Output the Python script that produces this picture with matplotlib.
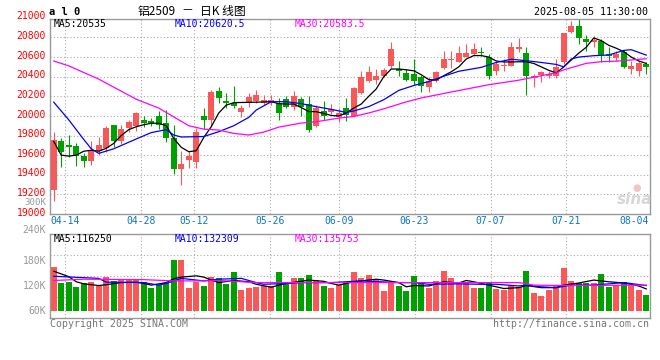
# Sina-style daily K line chart for al0 (aluminium 2509)
import numpy as np
import matplotlib
matplotlib.use("Agg")
import matplotlib.pyplot as plt

# ---- data ----
dates = ("04-10 04-11 04-14 04-15 04-16 04-17 04-18 04-21 04-22 04-23 04-24 04-25 "
         "04-28 04-29 04-30 05-06 05-07 05-08 05-09 05-12 05-13 05-14 05-15 05-16 "
         "05-19 05-20 05-21 05-22 05-23 05-26 05-27 05-28 05-29 05-30 06-03 06-04 "
         "06-05 06-06 06-09 06-10 06-11 06-12 06-13 06-16 06-17 06-18 06-19 06-20 "
         "06-23 06-24 06-25 06-26 06-27 06-30 07-01 07-02 07-03 07-04 07-07 07-08 "
         "07-09 07-10 07-11 07-14 07-15 07-16 07-17 07-18 07-21 07-22 07-23 07-24 "
         "07-25 07-28 07-29 07-30 07-31 08-01 08-04 08-05").split()
tick_dates = ["04-14", "04-28", "05-12", "05-26", "06-09", "06-23", "07-07", "07-21", "08-04"]

opens = [19244, 19744, 19703, 19693, 19591, 19543, 19645, 19670, 19907, 19747,
         19873, 19900, 19958, 19948, 19999, 19931, 19778, 19458, 19550, 19533,
         19999, 19958, 20254, 20152, 20135, 20043, 20129, 20152, 20135, 20129,
         20135, 20169, 20094, 20169, 20121, 19897, 20050, 20043, 19986, 20078,
         19996, 20234, 20353, 20369, 20410, 20512, 20478, 20438, 20427, 20394,
         20298, 20359, 20486, 20575, 20553, 20604, 20631, 20645, 20598, 20461,
         20506, 20512, 20682, 20642, 20387, 20417, 20404, 20404, 20547, 20853,
         20920, 20784, 20757, 20767, 20631, 20588, 20649, 20478, 20461, 20529]
highs = [19839, 19772, 19805, 19721, 19625, 19744, 19782, 19900, 19907, 19907,
         19958, 20043, 19999, 19975, 20053, 20060, 19907, 19645, 19645, 19873,
         20078, 20264, 20292, 20237, 20305, 20111, 20230, 20264, 20213, 20213,
         20179, 20203, 20254, 20190, 20203, 20111, 20152, 20121, 20078, 20186,
         20292, 20461, 20512, 20478, 20486, 20757, 20563, 20478, 20580, 20417,
         20394, 20461, 20665, 20659, 20716, 20733, 20744, 20700, 20631, 20563,
         20580, 20757, 20792, 20700, 20427, 20461, 20461, 20580, 20846, 20971,
         20988, 20825, 20815, 20784, 20700, 20665, 20675, 20563, 20563, 20547]
lows = [19132, 19482, 19584, 19489, 19482, 19499, 19601, 19635, 19680, 19713,
        19839, 19849, 19890, 19900, 19863, 19737, 19404, 19295, 19466, 19466,
        19863, 19897, 20129, 20078, 20078, 19992, 20094, 20129, 20111, 20111,
        19958, 20078, 20060, 19999, 19839, 19884, 19958, 20019, 19941, 19950,
        19986, 20223, 20343, 20325, 20394, 20486, 20410, 20359, 20315, 20247,
        20241, 20343, 20478, 20486, 20547, 20598, 20621, 20614, 20376, 20417,
        20461, 20512, 20655, 20213, 20292, 20349, 20384, 20384, 20529, 20846,
        20733, 20665, 20706, 20547, 20553, 20563, 20486, 20427, 20404, 20427]
closes = [19754, 19635, 19686, 19591, 19543, 19652, 19703, 19873, 19747, 19866,
          19941, 20033, 19931, 19925, 19904, 19778, 19458, 19509, 19594, 19839,
          19958, 20247, 20186, 20129, 20101, 20078, 20196, 20213, 20162, 20162,
          20033, 20094, 20203, 20094, 19856, 20078, 19999, 20070, 20033, 20010,
          20282, 20400, 20451, 20404, 20471, 20682, 20461, 20369, 20359, 20308,
          20359, 20451, 20580, 20585, 20642, 20642, 20682, 20638, 20410, 20529,
          20522, 20700, 20700, 20410, 20404, 20445, 20427, 20502, 20846, 20914,
          20792, 20757, 20774, 20621, 20608, 20631, 20502, 20506, 20537, 20496]

ma5 = [19740, 19600, 19590, 19600, 19640, 19650, 19640, 19670, 19720, 19800,
       19860, 19890, 19910, 19925, 19925, 19900, 19770, 19680, 19635, 19645,
       19780, 19890, 20030, 20110, 20135, 20137, 20138, 20140, 20142, 20145,
       20125, 20121, 20121, 20085, 20045, 20043, 20025, 20005, 19999, 20030,
       20080, 20121, 20200, 20275, 20400, 20478, 20478, 20470, 20460, 20420,
       20370, 20366, 20410, 20450, 20500, 20580, 20615, 20615, 20600, 20560,
       20550, 20550, 20552, 20552, 20535, 20500, 20465, 20438, 20500, 20570,
       20640, 20700, 20795, 20767, 20720, 20690, 20655, 20600, 20560, 20535]
ma10_idx = [0, 2, 4, 5, 6, 8, 11, 13, 15, 16, 17, 20, 22, 24, 26, 27, 29, 31, 33, 35,
            37, 39, 40, 42, 44, 46, 48, 50, 52, 54, 57, 59, 61, 63, 65, 67, 68, 69, 70, 72,
            74, 76, 77, 79]
ma10_val = [20140, 19960, 19760, 19665, 19618, 19665, 19765, 19830, 19860, 19805,
            19785, 19790, 19839, 19900, 19985, 20060, 20145, 20145, 20125, 20094,
            20067, 20035, 20050, 20095, 20165, 20260, 20310, 20350, 20405, 20455,
            20495, 20545, 20578, 20563, 20545, 20525, 20500, 20580, 20600, 20614,
            20621, 20668, 20675, 20620]
ma30_idx = [0, 2, 6, 11, 14, 16, 18, 20, 22, 24, 26, 28, 30, 33, 35, 38, 40, 42, 44, 47,
            49, 53, 58, 62, 67, 68, 71, 73, 75, 79]
ma30_val = [20560, 20510, 20375, 20170, 20080, 19990, 19900, 19865, 19856, 19822,
            19805, 19835, 19886, 19927, 19941, 19977, 19995, 20030, 20072, 20143,
            20183, 20244, 20318, 20364, 20440, 20470, 20536, 20553, 20558, 20583]

# volume in thousands
volumes = [164, 127, 130, 118, 128, 130, 121, 142, 132, 137,
           137, 134, 130, 114, 122, 128, 182, 182, 116, 130,
           120, 142, 140, 125, 153, 111, 116, 118, 120, 120,
           153, 124, 140, 140, 146, 133, 121, 116, 122, 128,
           153, 139, 146, 136, 108, 126, 120, 108, 144, 126,
           115, 132, 156, 139, 128, 130, 115, 115, 130, 113,
           111, 122, 118, 156, 103, 96, 111, 120, 163, 132,
           126, 128, 126, 148, 118, 122, 130, 120, 111, 99]
vma5_idx = [0, 2, 3, 4, 6, 7, 9, 11, 12, 13, 15, 16, 17, 19, 20, 21, 22, 24, 26, 27,
            29, 30, 31, 33, 34, 36, 37, 38, 40, 43, 44, 46, 47, 48, 50, 52, 54, 55, 56, 58,
            60, 62, 63, 65, 67, 68, 70, 72, 74, 76, 78, 79]
vma5_val = [155, 142, 130, 125, 121, 123, 128, 129, 126, 122, 128, 137, 141, 144, 141,
            134, 128, 133, 130, 124, 117, 122, 126, 131, 134, 131, 126, 122, 130, 136,
            134, 128, 118, 121, 120, 130, 127, 133, 130, 122, 114, 116, 121, 116, 116,
            122, 127, 134, 130, 127, 120, 113]
vma10_idx = [0, 6, 7, 12, 14, 15, 17, 20, 22, 25, 27, 28, 31, 33, 37, 41, 46, 48, 50, 54,
             57, 59, 62, 63, 65, 67, 69, 72, 74, 76, 79]
vma10_val = [143, 138, 129, 128, 122, 126, 138, 132, 136, 138, 128, 124, 126, 128, 128,
             132, 128, 128, 124, 125, 124, 124, 120, 122, 118, 116, 122, 122, 125, 128, 121]
vma30_idx = [0, 4, 12, 16, 20, 22, 27, 62, 64, 68, 79]
vma30_val = [133, 136, 135, 132, 132, 133, 128, 128, 122, 121, 122]

price_ticks = [19000, 19200, 19400, 19600, 19800, 20000, 20200, 20400, 20600, 20800, 21000]
vol_ticks = [60000, 120000, 180000, 240000, 300000]
vol_tick_labels = ["60K", "120K", "180K", "240K", "300K"]

# ---- styles ----
RED = "#fa5858"
GREEN = "#00a000"
GRID = "#aaaaaa"
FRAME = "#999999"
MONO = "DejaVu Sans Mono"
W, H = 660, 360


def fx(px):
    return px / W


def fy(py):
    return 1 - py / H


opens = np.array(opens)
closes = np.array(closes)
highs = np.array(highs)
lows = np.array(lows)
vols = np.array(volumes) * 1000
n = len(dates)
x = np.arange(n)
colors = np.where(closes >= opens, RED, GREEN)

fig = plt.figure(figsize=(6.6, 3.6), dpi=100)
ax = fig.add_axes([fx(50), fy(214), 600 / W, 195 / H])
axv = fig.add_axes([fx(50), fy(318.3), 600 / W, 84 / H])

# date grid positions (Sina spreads them over the full width)
grid_x = [-0.5 + dates.index(d) / (n - 1) * n for d in tick_dates]

# price panel
for v in price_ticks[1:-1]:
    ax.axhline(v, color=GRID, lw=0.8, ls=(0, (1, 2)), zorder=0)
for gx in grid_x[:-1]:
    ax.axvline(gx, color=GRID, lw=0.8, ls=(0, (1, 2)), zorder=0)

ax.vlines(x, lows, highs, colors=colors, lw=0.8, zorder=2)
ax.bar(x, np.maximum(np.abs(closes - opens), 10), bottom=np.minimum(opens, closes),
       width=0.8, color=colors, linewidth=0, zorder=3)
ax.plot(x, ma5, color="black", lw=0.9, zorder=4)
ax.plot(ma10_idx, ma10_val, color="#0000ff", lw=0.9, zorder=4)
ax.plot(ma30_idx, ma30_val, color="#ff00ff", lw=0.9, zorder=4)
ax.set_xlim(-0.5, n - 0.5)
ax.set_ylim(19000, 20988)
ax.set_xticks([])
ax.set_yticks([])

for v in price_ticks:
    ax.annotate(str(v), xy=(0, v), xycoords=("axes fraction", "data"),
                xytext=(-2.9, 1), textcoords="offset points", ha="right", va="center",
                color="red", fontsize=7, family=MONO, annotation_clip=False)

# volume panel
for f in [0.25, 0.5, 0.75]:
    axv.axhline(43400 + f * 199000, color=GRID, lw=0.8, ls=(0, (1, 2)), zorder=0)
for gx in grid_x[:-1]:
    axv.axvline(gx, color=GRID, lw=0.8, ls=(0, (1, 2)), zorder=0)

VOL_BASE = 60000
axv.bar(x, vols - VOL_BASE, bottom=VOL_BASE, width=0.8, color=colors, linewidth=0, zorder=2)
axv.plot(vma5_idx, np.array(vma5_val) * 1000, color="black", lw=0.9, zorder=4)
axv.plot(vma10_idx, np.array(vma10_val) * 1000, color="#0000ff", lw=0.9, zorder=4)
axv.plot(vma30_idx, np.array(vma30_val) * 1000, color="#ff00ff", lw=0.9, zorder=4)
axv.set_xlim(-0.5, n - 0.5)
axv.set_ylim(43400, 242400)
axv.set_xticks([])
axv.set_yticks([])

extra = {240000: 3.8, 300000: 5.6}
for v, lab in zip(vol_ticks, vol_tick_labels):
    axv.annotate(lab, xy=(0, v), xycoords=("axes fraction", "data"),
                 xytext=(-2.9, extra.get(v, 0)), textcoords="offset points",
                 ha="right", va="center", color="#999999",
                 fontsize=6.6 if v == 300000 else 7, family=MONO,
                 annotation_clip=False)

for a in (ax, axv):
    for s in a.spines.values():
        s.set_color(FRAME)
        s.set_linewidth(1)

# date labels
for d, gx in zip(tick_dates, grid_x):
    frac = (gx + 0.5) / n
    px = 50 + 600 * frac
    if px + 15 > 649:
        fig.text(fx(649), fy(221.5), d, ha="right", va="center", color="#0a74c8",
                 fontsize=7, family=MONO)
    else:
        fig.text(fx(px), fy(221.5), d, ha="center", va="center", color="#0a74c8",
                 fontsize=7, family=MONO)

# header texts
fig.text(fx(49), fy(12), "a l 0", ha="left", va="center", fontsize=7.5,
         family=MONO, weight="bold")
fig.text(fx(138), fy(11), "铝2509", ha="left", va="center", fontsize=8.5,
         family=["Noto Sans CJK SC", "DejaVu Sans"])
fig.text(fx(187), fy(11), "－", ha="center", va="center", fontsize=8.5,
         family=["Noto Sans CJK SC", "DejaVu Sans"])
fig.text(fx(200), fy(11), "日K 线图", ha="left", va="center", fontsize=8.5,
         family=["Noto Sans CJK SC", "DejaVu Sans"])
fig.text(fx(648), fy(12), "2025-08-05 11:30:00", ha="right", va="center",
         fontsize=7.2, family=MONO)

ma_texts = [("MA5:20535", "black"), ("MA10:20620.5", "#0000ff"), ("MA30:20583.5", "#ff00ff")]
vma_texts = [("MA5:116250", "black"), ("MA10:132309", "#0000ff"), ("MA30:135753", "#ff00ff")]
for (t, c), left in zip(ma_texts, [54, 175, 295]):
    fig.text(fx(left), fy(23.7), t, ha="left", va="center", color=c, fontsize=7, family=MONO)
for (t, c), left in zip(vma_texts, [54, 175, 295]):
    fig.text(fx(left), fy(238.7), t, ha="left", va="center", color=c, fontsize=7, family=MONO)

fig.text(fx(50), fy(324), "Copyright 2025 SINA.COM", ha="left", va="center",
         color="#777777", fontsize=7.1, family=MONO)
fig.text(fx(649), fy(324), "http://finance.sina.com.cn", ha="right", va="center",
         color="#777777", fontsize=7.1, family=MONO)

# watermark
fig.text(fx(635), fy(199), "sina", ha="center", va="center", fontsize=11,
         style="italic", weight="bold", color="#cccccc", alpha=0.8)
fig.text(fx(637), fy(188), "●", ha="center", va="center", fontsize=7,
         color="#f4b4b4", alpha=0.8)

fig.savefig("out.png", dpi=100)
